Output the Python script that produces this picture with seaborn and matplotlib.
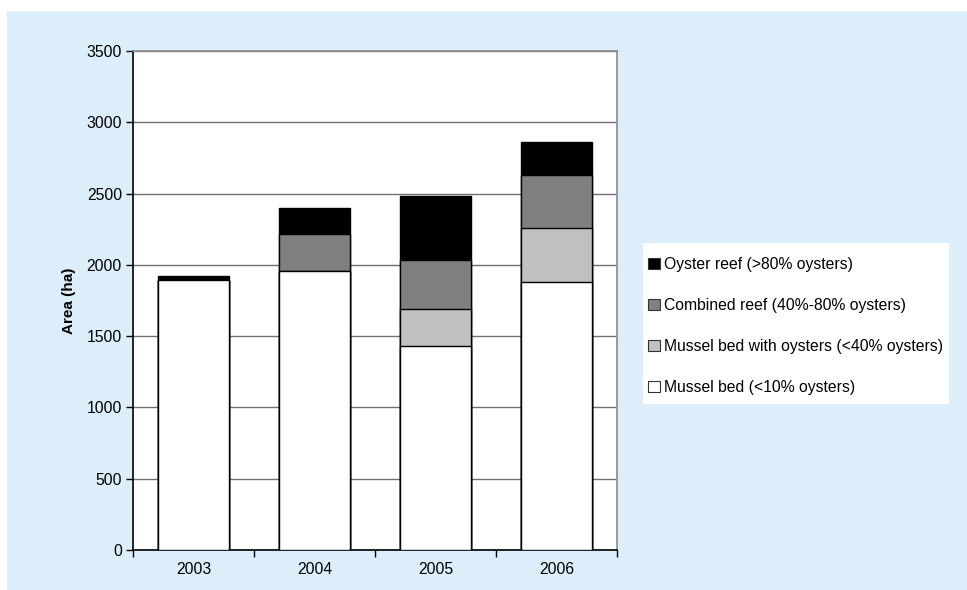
import numpy as np
import pandas as pd
import matplotlib
matplotlib.use("Agg")
import matplotlib.pyplot as plt
from matplotlib.patches import Rectangle, Patch
from matplotlib.ticker import FixedLocator
import seaborn as sns

# Mapped intertidal bed area by category (ha)
years = ["2003", "2004", "2005", "2006"]
mussel_bed = [1895, 1960, 1430, 1877]
mussel_bed_with_oysters = [0, 0, 263, 382]
combined_reef = [0, 256, 344, 373]
oyster_reef = [30, 184, 447, 228]

series_labels = [
    "Mussel bed (<10% oysters)",
    "Mussel bed with oysters (<40% oysters)",
    "Combined reef (40%-80% oysters)",
    "Oyster reef (>80% oysters)",
]
series_colors = ["#ffffff", "#c0c0c0", "#808080", "#000000"]

sns.set_style("white")
plt.rcParams["font.family"] = ["Liberation Sans", "DejaVu Sans"]
plt.rcParams.update({
    "text.color": "black",
    "axes.labelcolor": "black",
    "xtick.color": "black",
    "ytick.color": "black",
})

W, H = 967, 590
fig = plt.figure(figsize=(W / 100, H / 100), dpi=100, facecolor="white")
# light blue panel behind the chart
fig.patches.append(Rectangle((7 / W, 0), 1 - 7 / W, 1 - 11 / H,
                             transform=fig.transFigure, facecolor="#dbeefa",
                             edgecolor="none", zorder=-10))
# white panel behind the legend
fig.patches.append(Rectangle((643 / W, 1 - 404 / H), (949 - 643) / W, (404 - 243) / H,
                             transform=fig.transFigure, facecolor="white",
                             edgecolor="none", zorder=-5))

ax = fig.add_axes([133 / W, 1 - 550 / H, (617 - 133) / W, (550 - 51) / H])
ax.set_facecolor("white")

stack = np.vstack([mussel_bed, mussel_bed_with_oysters, combined_reef, oyster_reef])
cum = np.cumsum(stack, axis=0)

# draw from the full stack height down so each lower layer covers the one above
for i in range(len(series_labels) - 1, -1, -1):
    df = pd.DataFrame({"year": years, "area": cum[i]})
    sns.barplot(data=df, x="year", y="area", color=series_colors[i],
                saturation=1, edgecolor="black", linewidth=1.0,
                width=0.595, ax=ax, zorder=3, errorbar=None)

ax.set_ylim(0, 3500)
ax.set_xlim(-0.5, len(years) - 0.5)
ax.set_yticks(np.arange(0, 3501, 500))
ax.yaxis.grid(True, color="#707070", linewidth=1.0, zorder=0)
ax.xaxis.grid(False)
ax.set_axisbelow(True)

ax.set_xlabel("")
ax.set_ylabel("Area (ha)", fontsize=11, fontweight="bold", labelpad=7.5)

ax.tick_params(axis="y", which="major", direction="out", length=5, width=1,
               color="black", labelcolor="black", labelsize=11.3, pad=3, left=True)
ax.tick_params(axis="x", which="major", length=0, labelcolor="black",
               labelsize=11.3, pad=8.5)
ax.xaxis.set_minor_locator(FixedLocator(np.arange(-0.5, len(years), 1.0)))
ax.tick_params(axis="x", which="minor", direction="out", length=5, width=1,
               color="black", bottom=True)

for side in ["left", "bottom"]:
    ax.spines[side].set_color("black")
    ax.spines[side].set_linewidth(1.2)
for side in ["top", "right"]:
    ax.spines[side].set_visible(True)
    ax.spines[side].set_color("#8c8c8c")
    ax.spines[side].set_linewidth(1.2)

handles = [Patch(facecolor=series_colors[i], edgecolor="#333333", linewidth=0.8)
           for i in range(len(series_labels) - 1, -1, -1)]
labels = series_labels[::-1]
leg = fig.legend(handles, labels, loc="upper left",
                 bbox_to_anchor=(648 / W, 1 - 257 / H), borderaxespad=0,
                 fontsize=11.3, frameon=False, borderpad=0,
                 handlelength=0.75, handleheight=0.75, handletextpad=0.25,
                 labelspacing=1.66, labelcolor="black")

fig.savefig("out.png", dpi=100, facecolor="white")
